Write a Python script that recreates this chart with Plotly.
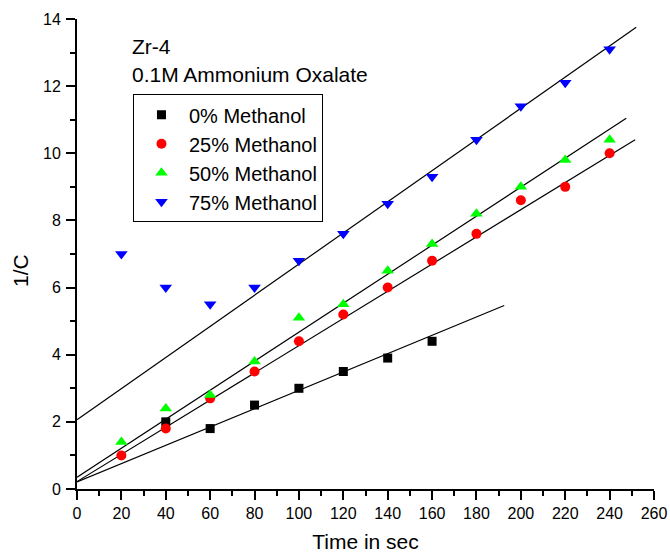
import plotly.graph_objects as go

# ---- data ----
time_x = [20, 40, 60, 80, 100, 120, 140, 160, 180, 200, 220, 240]
time_0 = [40, 60, 80, 100, 120, 140, 160]
meth_0 = [2.0, 1.8, 2.5, 3.0, 3.5, 3.9, 4.4]
meth_25 = [1.0, 1.8, 2.7, 3.5, 4.4, 5.2, 6.0, 6.8, 7.6, 8.6, 9.0, 10.0]
meth_50 = [1.4, 2.4, 2.8, 3.8, 5.1, 5.5, 6.5, 7.3, 8.2, 9.0, 9.8, 10.4]
meth_75 = [7.0, 6.0, 5.5, 6.0, 6.8, 7.6, 8.5, 9.3, 10.4, 11.4, 12.1, 13.1]

# linear fit lines: intercept, slope, x-extent
fit_names = ["0%", "25%", "50%", "75%"]
fit_intercepts = [0.21, 0.22, 0.35, 2.06]
fit_slopes = [0.0273, 0.0405, 0.0432, 0.0464]
fit_xmax = [192.5, 251.5, 247.5, 252.0]

series_names = ["0% Methanol", "25% Methanol", "50% Methanol", "75% Methanol"]
series_colors = ["#000000", "#ff0000", "#00ff00", "#0000ff"]
series_symbols = ["square", "circle", "triangle-up", "triangle-down"]
series_sizes = [9, 10, 11, 11]

FONT = "Liberation Sans, Arial, sans-serif"

fig = go.Figure()

# fit lines
for b, m, xm in zip(fit_intercepts, fit_slopes, fit_xmax):
    xs = [0, xm]
    ys = [b + m * v for v in xs]
    fig.add_trace(go.Scatter(x=xs, y=ys, mode="lines",
                             line=dict(color="black", width=1.2),
                             showlegend=False, hoverinfo="skip"))

xs_list = [time_0, time_x, time_x, time_x]
ys_list = [meth_0, meth_25, meth_50, meth_75]
for name, xs, ys, c, s, sz in zip(series_names, xs_list, ys_list,
                                  series_colors, series_symbols, series_sizes):
    fig.add_trace(go.Scatter(x=xs, y=ys, mode="markers", name=name,
                             marker=dict(color=c, symbol=s, size=sz,
                                         line=dict(width=0))))

axis_common = dict(
    showline=True, linecolor="black", linewidth=2,
    ticks="outside", ticklen=9, tickwidth=1.5, tickcolor="black",
    showgrid=False, zeroline=False, mirror=False, automargin=False,
    tickfont=dict(family=FONT, size=16, color="black"),
)

fig.update_xaxes(range=[0, 260], dtick=20, tick0=0,
                 minor=dict(dtick=10, ticks="outside", ticklen=5,
                            tickwidth=1.5, tickcolor="black"),
                 title=dict(text="Time in sec",
                            font=dict(family=FONT, size=21, color="black"),
                            standoff=14),
                 **axis_common)
fig.update_yaxes(range=[0, 14], dtick=2, tick0=0, ticklabelstandoff=2,
                 minor=dict(dtick=1, ticks="outside", ticklen=5,
                            tickwidth=1.5, tickcolor="black"),
                 **axis_common)

fig.add_annotation(text="1/C", xref="paper", yref="paper",
                   x=-0.097, y=0.464, textangle=-90, showarrow=False,
                   xanchor="center", yanchor="middle",
                   font=dict(family=FONT, size=21, color="black"))
fig.add_annotation(text="Zr-4", xref="paper", yref="paper",
                   x=0.092, y=0.942, xanchor="left", yanchor="middle",
                   showarrow=False,
                   font=dict(family=FONT, size=21, color="black"))
fig.add_annotation(text="0.1M Ammonium Oxalate", xref="paper", yref="paper",
                   x=0.092, y=0.881, xanchor="left", yanchor="middle",
                   showarrow=False,
                   font=dict(family=FONT, size=21, color="black"))

fig.update_layout(
    width=670, height=553,
    margin=dict(l=77, r=16, t=19, b=64),
    plot_bgcolor="white", paper_bgcolor="white",
    legend=dict(x=0.097, y=0.84, xanchor="left", yanchor="top",
                bordercolor="black", borderwidth=1, bgcolor="white",
                font=dict(family=FONT, size=20, color="black"),
                itemwidth=45, tracegroupgap=0),
)

# remove the default 8px body margin so the figure fills the window exactly
fig.write_html("out.html", config={"displayModeBar": False},
               post_script="document.body.style.margin='0';")
